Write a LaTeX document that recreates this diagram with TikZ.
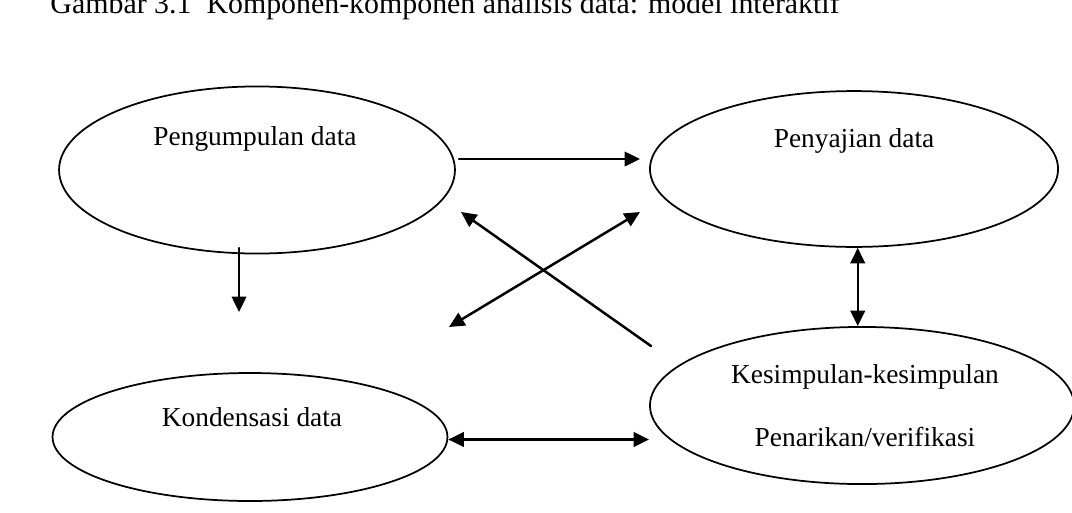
\documentclass[tikz,border=0pt]{standalone}
\usepackage{fontspec}
\setmainfont{Liberation Serif}
\usetikzlibrary{shapes.geometric,arrows.meta}
\tikzset{
  blob/.style = {draw, ellipse, line width=0.7pt, inner sep=0pt},
  tahap/.style = {anchor=base, inner sep=0pt},
  panah/.style = {line width=1pt}
}
\begin{document}
\begin{tikzpicture} [x=0.4016pt, y=-0.4016pt, font=\fontsize{11}{13}\selectfont, line cap = round, line join = round, >={Triangle[length=6.2pt,width=5.8pt]}]
				\useasboundingbox (0,0) rectangle (1072,512);
				\node[anchor=base west, inner sep=0pt, font=\fontsize{12}{14}\selectfont] (judul) at (50,13) {Gambar 3.1\ \ Komponen-komponen analisis data: model interaktif};
				% four stages
				\node[blob, minimum width=159pt, minimum height=67.1pt] (kumpul) at (257,170) {};
				\node[blob, minimum width=163.9pt, minimum height=62.6pt] (saji) at (854,169) {};
				\node[blob, minimum width=158.6pt, minimum height=51.4pt] (kondensasi) at (250,437) {};
				\node[blob, minimum width=170.3pt, minimum height=63.1pt] (simpul) at (862,405.5) {};
				\node[tahap] (kumpultxt) at (255,145) {Pengumpulan data};
				\node[tahap] (sajitxt) at (854,147) {Penyajian data};
				\node[tahap] (kondtxt) at (252,426) {Kondensasi data};
				\node[tahap] (simpultxt) at (865,383) {Kesimpulan-kesimpulan};
				\node[tahap] (tariktxt) at (865,446) {Penarikan/verifikasi};
				% arrow ends
				\coordinate (k1) at (459,159); \coordinate (s1) at (640,159);
				\coordinate (k2) at (239,248); \coordinate (d2) at (239,312);
				\coordinate (v1) at (651,346); \coordinate (k3) at (461,212);
				\coordinate (d3) at (449,327); \coordinate (s3) at (640,212);
				\draw[panah, ->] (k1) -- (s1);
				\draw[panah, ->] (k2) -- (d2);
				\draw[panah, ->] (v1) -- (k3);
				\draw[panah, <->] (d3) -- (s3);
				\draw[panah, <->] ([xshift=1.5pt]saji.south) -- ([xshift=1.5pt]saji.south |- simpul.north);
				\draw[panah, <->] ([yshift=-1pt]kondensasi.east) -- ([yshift=-1pt]kondensasi.east -| simpul.west);
			\end{tikzpicture}
\end{document}
